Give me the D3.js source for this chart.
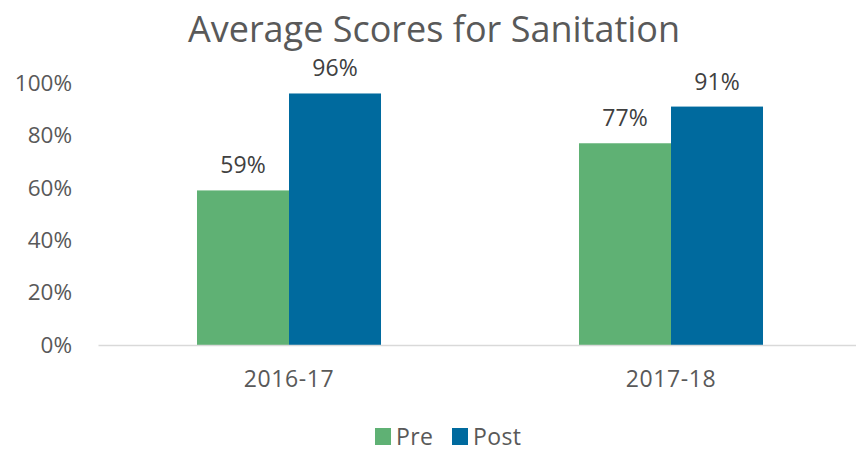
<!DOCTYPE html>
<html>
<head>
<meta charset="utf-8">
<script src="https://cdn.jsdelivr.net/npm/d3@7"></script>
<style>
    body { margin: 0; background: #fff; }
    svg text { font-family: 'Open Sans', sans-serif; }
</style>
</head>
<body>
<div id="chart"></div>
<script>
const categories = ['2016-17', '2017-18'];
const seriesNames = ['Pre', 'Post'];
const preValues = [0.59, 0.77];
const postValues = [0.96, 0.91];
const yTicks = [0, 0.2, 0.4, 0.6, 0.8, 1.0];
const colors = ['#5FB174', '#006A9E'];

const width = 856, height = 451;
const margin = {top: 83, right: -6, bottom: 106, left: 98};

const data = categories.map((c, i) => ({
    category: c,
    values: [
        {series: 'Pre', value: preValues[i]},
        {series: 'Post', value: postValues[i]}
    ]
}));

const svg = d3.select('#chart')
    .append('svg')
    .attr('width', width)
    .attr('height', height);

// Scales
const x0 = d3.scaleBand()
    .domain(categories)
    .range([margin.left, width - margin.right])
    .padding(0);

const x1 = d3.scaleBand()
    .domain(seriesNames)
    .range([0, x0.bandwidth()])
    .paddingInner(0)
    .paddingOuter(1.076);

const y = d3.scaleLinear()
    .domain([0, 1])
    .range([height - margin.bottom, margin.top]);

const color = d3.scaleOrdinal().domain(seriesNames).range(colors);

// Title
svg.append('text')
    .attr('x', 434)
    .attr('y', 42)
    .attr('text-anchor', 'middle')
    .attr('font-size', '36px')
    .attr('fill', '#595959')
    .text('Average Scores for Sanitation');

// Y axis labels
svg.append('g')
    .attr('transform', `translate(${margin.left},0)`)
    .call(d3.axisLeft(y)
        .tickValues(yTicks)
        .tickFormat(d3.format('.0%'))
        .tickSize(0)
        .tickPadding(26))
    .call(g => g.select('.domain').remove())
    .call(g => g.selectAll('text')
        .attr('font-size', '22.5px')
        .attr('fill', '#595959')
        .attr('font-family', "'Open Sans', sans-serif"));

// Bars
const groups = svg.selectAll('.group')
    .data(data)
    .enter()
    .append('g')
    .attr('class', 'group')
    .attr('transform', d => `translate(${x0(d.category)},0)`);

groups.selectAll('rect')
    .data(d => d.values)
    .enter()
    .append('rect')
    .attr('x', d => x1(d.series))
    .attr('y', d => y(d.value))
    .attr('width', x1.bandwidth())
    .attr('height', d => y(0) - y(d.value))
    .attr('fill', d => color(d.series));

// Value labels
groups.selectAll('.val')
    .data(d => d.values)
    .enter()
    .append('text')
    .attr('class', 'val')
    .attr('x', d => x1(d.series) + x1.bandwidth() / 2)
    .attr('y', d => y(d.value) - 17)
    .attr('text-anchor', 'middle')
    .attr('font-size', '23px')
    .attr('fill', '#404040')
    .text(d => d3.format('.0%')(d.value));

// X axis
svg.append('g')
    .attr('transform', `translate(0,${y(0)})`)
    .call(d3.axisBottom(x0).tickSize(0).tickPadding(26).tickSizeOuter(0))
    .call(g => g.select('.domain').attr('stroke', '#d9d9d9').attr('stroke-width', 1.5))
    .call(g => g.selectAll('text')
        .attr('font-size', '23px')
        .attr('letter-spacing', '0.6px')
        .attr('fill', '#595959')
        .attr('font-family', "'Open Sans', sans-serif"));

// Legend
const legend = svg.append('g').attr('transform', 'translate(375,437)');
const legendOffsets = [0, 77];
seriesNames.forEach((s, i) => {
    const g = legend.append('g').attr('transform', `translate(${legendOffsets[i]},0)`);
    g.append('rect')
        .attr('x', 0)
        .attr('y', -9)
        .attr('width', 16)
        .attr('height', 17)
        .attr('fill', color(s));
    g.append('text')
        .attr('x', 21)
        .attr('y', 8)
        .attr('font-size', '23px')
        .attr('letter-spacing', '0.4px')
        .attr('fill', '#595959')
        .text(s);
});
</script>
</body>
</html>
